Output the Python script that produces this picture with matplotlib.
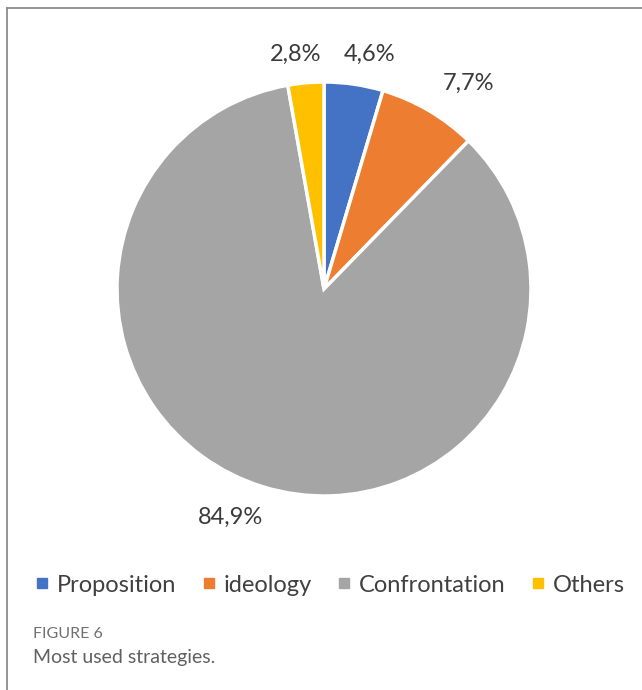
import matplotlib
matplotlib.use("Agg")
import matplotlib.pyplot as plt
from matplotlib.lines import Line2D
import numpy as np

plt.rcParams['font.family'] = ['Lato', 'DejaVu Sans']

labels = ["Proposition", "ideology", "Confrontation", "Others"]
shares = [4.6, 7.7, 84.9, 2.8]
colors = ["#4472c4", "#ed7d31", "#a5a5a5", "#ffc000"]

W, H = 642, 690
fig = plt.figure(figsize=(W / 100, H / 100), dpi=100)

# pie centred at (324, 289) px with radius 207 px
cx, cy, r = 324, 289, 207
ax = fig.add_axes([(cx - r) / W, 1 - (cy + r) / H, 2 * r / W, 2 * r / H])
wedges, texts, autotexts = ax.pie(
    shares, colors=colors, startangle=90, counterclock=False,
    radius=1, autopct=lambda p: f"{p:.1f}%".replace(".", ","),
    pctdistance=1.17,
    wedgeprops=dict(edgecolor="white", linewidth=2.5),
    textprops=dict(fontsize=17, color="#3a3a3a"))
ax.set_xlim(-1, 1)
ax.set_ylim(-1, 1)
ax.set_aspect("equal")
for t in autotexts:
    t.set_clip_on(False)

# nudge labels to their printed spots
autotexts[0].set_position((0.22, 1.135))
autotexts[1].set_position((0.70, 0.995))
autotexts[2].set_position((-0.45, -1.105))
autotexts[3].set_position((-0.135, 1.135))

# legend row
handles = [Line2D([], [], marker="s", linestyle="none", markersize=7,
                  markerfacecolor=c, markeredgecolor=c) for c in colors]
fig.legend(handles, labels, loc="center", bbox_to_anchor=(330 / W, 1 - 585 / H),
           ncol=4, frameon=False, fontsize=17, labelcolor="#404040",
           handlelength=0.6, handletextpad=0.35, columnspacing=1.05)

# caption
fig.text(33 / W, 1 - 634 / H, "FIGURE 6", fontsize=11.5, color="#707070", va="center")
fig.text(33 / W, 1 - 658 / H, "Most used strategies.", fontsize=14,
         color="#606060", va="center")

# frame around the figure panel
x0, y0 = 6.5 / W, 1 - 7.5 / H
fig.add_artist(Line2D([x0, x0], [0, y0], color="#8c8c8c", linewidth=1.3,
                      transform=fig.transFigure))
fig.add_artist(Line2D([x0, 1], [y0, y0], color="#8c8c8c", linewidth=1.3,
                      transform=fig.transFigure))

fig.savefig("out.png", dpi=100)
